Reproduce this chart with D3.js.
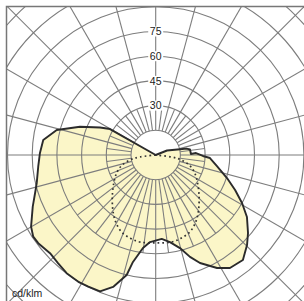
<!DOCTYPE html>
<html>
<head>
<meta charset="utf-8">
<script src="https://cdn.jsdelivr.net/npm/d3@7"></script>
<style>
  body { margin: 0; background: #fff; }
  svg { display: block; }
</style>
</head>
<body>
<svg id="chart"></svg>
<script>
// polar intensity diagram, values in cd/klm, angle 0 = straight down, 90 = right
const ringValues = [15, 30, 45, 60, 75, 90, 105, 120, 135];
const ringLabels = [30, 45, 60, 75];

const c0Angles = [-180, -119.6, -116.3, -110.5, -104.2, -97.6, -91, -84.3, -76.8, -72.5, -67.2, -60.1, -56.3, -53.1,
  -47.1, -42, -37, -31.4, -27.1, -22.2, -17.9, -13.6, -12, -7.8, -3.7, 4.1, 9.3, 14.6, 18.6, 22.3, 28.5, 33.3,
  39.7, 45.4, 49.8, 55.8, 60.9, 66.2, 72.1, 79.8, 86.8, 88.8, 92.8, 91.6, 99.1, 101.6, 103.2, 111.7, 180];
const c0Values = [0, 31.9, 37.7, 49.1, 62.0, 68.9, 70.3, 71.7, 74.2, 76.8, 81.0, 87.3, 89.4, 89.2,
  87.6, 88.5, 89.9, 90.2, 89.8, 89.5, 84.2, 75.0, 66.4, 57.0, 53.0, 51.1, 53.6, 58.4, 65.3, 70.9, 78.1, 82.1,
  82.9, 77.9, 73.4, 67.0, 60.0, 52.7, 45.5, 37.8, 33.0, 28.7, 24.5, 21.4, 21.1, 19.1, 15.2, 7.4, 0];

const c90Angles = [-90, -83, -79, -73, -66, -57, -47, -38, -31, -24, -17, -10, 0, 10, 17, 24, 31, 38, 47, 57, 66, 73, 79, 83, 90];
const c90Values = [0, 9.6, 15.9, 21.4, 25.7, 30.2, 36, 42.3, 47.3, 51.1, 52.8, 53.7, 53.4, 53.7, 52.8, 51.1, 47.3, 42.3, 36, 30.2, 25.7, 21.4, 15.9, 9.6, 0];

const w = 304, h = 301;
const cx = 155.7, cy = 155;
const gridColor = "#7d7d7d";

const svg = d3.select("#chart").attr("width", w).attr("height", h);

const r = d3.scaleLinear().domain([0, 90]).range([0, 148.2]);
const toRad = d => (180 - d) * Math.PI / 180;
const sin = d => Math.sin(d * Math.PI / 180);
const cos = d => Math.cos(d * Math.PI / 180);

svg.append("clipPath").attr("id", "frame")
   .append("rect").attr("x", 6).attr("y", 6).attr("width", 300).attr("height", 300);

const g = svg.append("g").attr("clip-path", "url(#frame)");
const plot = g.append("g").attr("transform", `translate(${cx},${cy})`);

const line = d3.lineRadial()
               .angle(d => toRad(d[0]))
               .radius(d => r(d[1]))
               .curve(d3.curveLinear);

const c0 = c0Angles.map((a, i) => [a, c0Values[i]]);
const c90 = c90Angles.map((a, i) => [a, c90Values[i]]);

plot.append("path")
    .attr("d", line(c0) + "Z")
    .attr("fill", "#fbf6c8")
    .attr("stroke", "none");

// grid circles
plot.selectAll(".ring")
    .data(ringValues)
    .enter()
    .append("circle")
    .attr("class", "ring")
    .attr("r", d => r(d))
    .attr("fill", "none")
    .attr("stroke", gridColor)
    .attr("stroke-width", 1.1);

// main spokes every 15 degrees, extra half-step spokes near the centre
const spokes = d3.range(0, 360, 15).map(a => ({a, to: 140}));
const fine = d3.range(7.5, 360, 15).map(a => ({a, to: (a < 60 || a > 300) ? 60 : 30}));

plot.selectAll(".spoke")
    .data(spokes.concat(fine))
    .enter()
    .append("line")
    .attr("class", "spoke")
    .attr("x1", d => r(15) * sin(d.a))
    .attr("y1", d => r(15) * cos(d.a))
    .attr("x2", d => r(d.to) * sin(d.a))
    .attr("y2", d => r(d.to) * cos(d.a))
    .attr("stroke", gridColor)
    .attr("stroke-width", 1.1);

// C90 dotted
plot.append("path")
    .attr("d", line.curve(d3.curveCardinal)(c90))
    .attr("fill", "none")
    .attr("stroke", "#333")
    .attr("stroke-width", 1.7)
    .attr("stroke-dasharray", "1.7,3");

// C0 outline
plot.append("path")
    .attr("d", line.curve(d3.curveLinear)(c0) + "Z")
    .attr("fill", "none")
    .attr("stroke", "#2b2b2b")
    .attr("stroke-width", 1.9)
    .attr("stroke-linejoin", "round");

// ring labels on the vertical axis
const labels = plot.selectAll(".lab")
    .data(ringLabels)
    .enter()
    .append("g")
    .attr("transform", d => `translate(0,${-r(d)})`);

labels.append("rect")
      .attr("x", -7.5).attr("y", -5).attr("width", 15).attr("height", 10)
      .attr("fill", "#fff");

labels.append("text")
      .attr("text-anchor", "middle")
      .attr("dy", "0.36em")
      .attr("font-family", "Liberation Sans, Arial, sans-serif")
      .attr("font-size", 10.5)
      .attr("fill", "#222")
      .text(d => d);

// frame
svg.append("path")
   .attr("d", "M6.5,301 V6.5 H304")
   .attr("fill", "none")
   .attr("stroke", "#777")
   .attr("stroke-width", 1.5);

svg.append("text")
   .attr("x", 12).attr("y", 297)
   .attr("font-family", "Liberation Sans, Arial, sans-serif")
   .attr("font-size", 10.5)
   .attr("fill", "#222")
   .text("cd/klm");
</script>
</body>
</html>
